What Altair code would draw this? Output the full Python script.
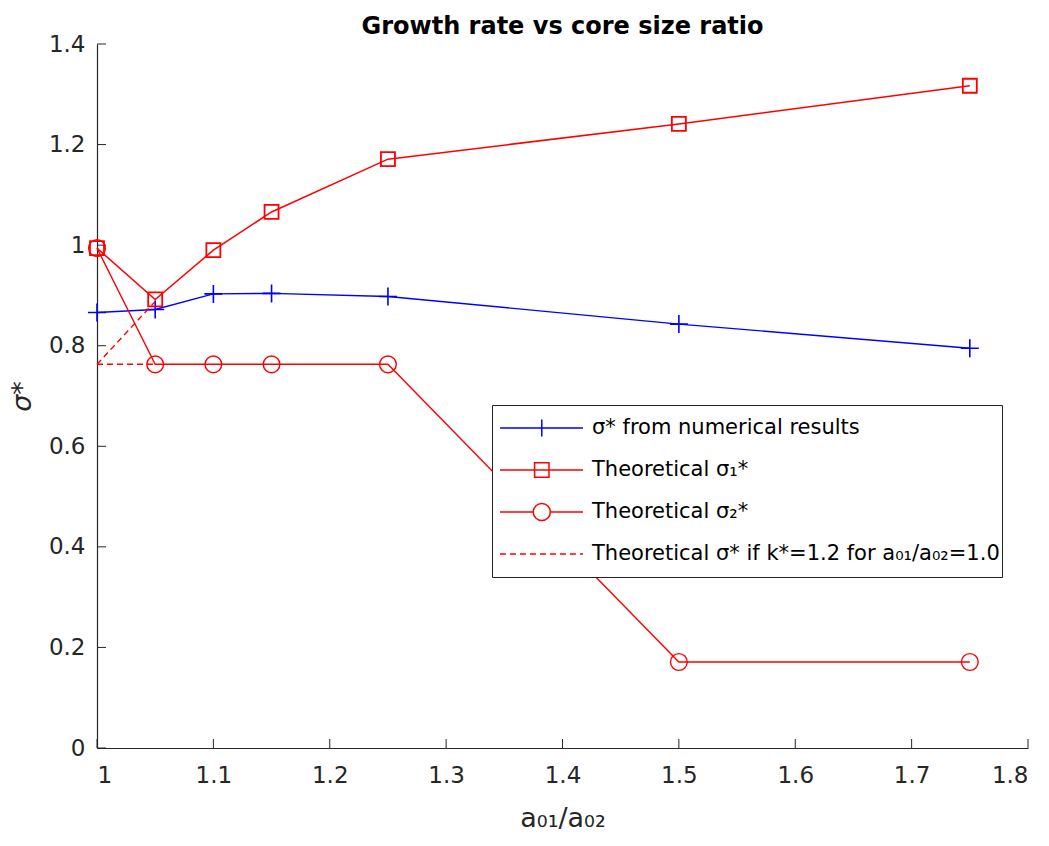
import altair as alt
import pandas as pd

# ---------------- data ----------------
x_vals = [1.0, 1.05, 1.1, 1.15, 1.25, 1.5, 1.75]
sigma_num = [0.866, 0.872, 0.903, 0.904, 0.898, 0.843, 0.795]
sigma_1 = [0.994, 0.892, 0.990, 1.066, 1.171, 1.241, 1.317]
sigma_2 = [0.994, 0.763, 0.763, 0.763, 0.763, 0.171, 0.171]

dash_x = [1.0, 1.05, 1.0, 1.05]
dash_y = [0.763, 0.888, 0.763, 0.763]
dash_seg = ["a", "a", "b", "b"]

x_ticks = [1.0, 1.1, 1.2, 1.3, 1.4, 1.5, 1.6, 1.7, 1.8]
y_ticks = [0.0, 0.2, 0.4, 0.6, 0.8, 1.0, 1.2, 1.4]

series_names = [
    "σ* from numerical results",
    "Theoretical σ₁*",
    "Theoretical σ₂*",
    "Theoretical σ* if k*=1.2 for a₀₁/a₀₂=1.0",
]
series_colors = ["#0000ff", "#ff0000", "#ff0000", "#ff0000"]

BLUE = "#0000ff"
RED = "#ff0000"
AXIS = "#262626"
FONT = "DejaVu Sans"

W, H = 931, 704

df_num = pd.DataFrame({"x": x_vals, "y": sigma_num})
df_s1 = pd.DataFrame({"x": x_vals, "y": sigma_1})
df_s2 = pd.DataFrame({"x": x_vals, "y": sigma_2})
df_dash = pd.DataFrame({"x": dash_x, "y": dash_y, "seg": dash_seg})
df_xt = pd.DataFrame({"x": x_ticks})
df_yt = pd.DataFrame({"y": y_ticks})
df_leg = pd.concat([
    df_num.assign(series=series_names[0]),
    df_s1.assign(series=series_names[1]),
    df_s2.assign(series=series_names[2]),
    df_dash[["x", "y"]].assign(series=series_names[3]),
])

# ---------------- legend symbol paths (line + marker) ----------------
L, R, c = -0.889, 0.956, 0.04
def f(v):
    return f"{v:.3f}"
plus_leg = f"M{f(L)},0H{f(R)}M{f(c)},-0.19V0.19"
sq_leg = f"M{f(L)},0H{f(R)}M{f(c-0.16)},-0.16H{f(c+0.16)}V0.16H{f(c-0.16)}Z"
r = 0.19
k = 0.5523 * r
circ_leg = (f"M{f(L)},0H{f(c-r)}M{f(c+r)},0H{f(R)}"
            f"M{f(c+r)},0C{f(c+r)},{f(k)} {f(c+k)},{f(r)} {f(c)},{f(r)}"
            f"C{f(c-k)},{f(r)} {f(c-r)},{f(k)} {f(c-r)},0"
            f"C{f(c-r)},{f(-k)} {f(c-k)},{f(-r)} {f(c)},{f(-r)}"
            f"C{f(c+k)},{f(-r)} {f(c+r)},{f(-k)} {f(c+r)},0Z")
dash_parts = []
pos = L
while pos < R:
    end = min(pos + 0.133, R)
    dash_parts.append(f"M{f(pos)},0H{f(end)}")
    pos = end + 0.089
dash_leg = "".join(dash_parts)
leg_shapes = [plus_leg, sq_leg, circ_leg, dash_leg]

plus_main = "M-1,0H1M0,-1V1"

# ---------------- encodings ----------------
X = alt.X("x:Q",
          scale=alt.Scale(domain=[1.0, 1.8], nice=False, zero=False),
          axis=alt.Axis(values=x_ticks, format="~g", title="a₀₁/a₀₂",
                        labelPadding=16, titlePadding=18, titleFontSize=27))
Y = alt.Y("y:Q",
          scale=alt.Scale(domain=[0.0, 1.4], nice=False, zero=False),
          axis=alt.Axis(values=y_ticks, format="~g", title="σ*",
                        labelPadding=12, titlePadding=12, titleFontSize=27,
                        titleFontStyle="italic"))

legend = alt.Legend(orient="none", legendX=395, legendY=361, title=None,
                    labelFont=FONT, labelFontSize=21, labelColor="black",
                    labelLimit=800, labelOffset=6, padding=2,
                    strokeColor=AXIS, fillColor="white",
                    symbolSize=8100, symbolStrokeWidth=1.5, symbolOpacity=1,
                    clipHeight=42, rowPadding=0)

xt = alt.Chart(df_xt).mark_rule(color=AXIS, strokeWidth=1).encode(
    x=X, y=alt.value(H), y2=alt.value(H - 9))
yt = alt.Chart(df_yt).mark_rule(color=AXIS, strokeWidth=1).encode(
    y=Y, x=alt.value(0), x2=alt.value(9))

num_line = alt.Chart(df_num).mark_line(color=BLUE, strokeWidth=1.4).encode(x=X, y=Y)
num_pts = alt.Chart(df_num).mark_point(shape=plus_main, size=324, filled=False,
                                       color=BLUE, strokeWidth=1.6, opacity=1).encode(x=X, y=Y)
s1_line = alt.Chart(df_s1).mark_line(color=RED, strokeWidth=1.5).encode(x=X, y=Y)
s1_pts = alt.Chart(df_s1).mark_point(shape="square", size=196, filled=False,
                                     color=RED, strokeWidth=1.8, opacity=1).encode(x=X, y=Y)
s2_line = alt.Chart(df_s2).mark_line(color=RED, strokeWidth=1.4).encode(x=X, y=Y)
s2_pts = alt.Chart(df_s2).mark_point(shape="circle", size=280, filled=False,
                                     color=RED, strokeWidth=1.4, opacity=1).encode(x=X, y=Y)
dash_line = alt.Chart(df_dash).mark_line(color=RED, strokeWidth=1.4, strokeDash=[6, 4]).encode(
    x=X, y=Y, detail="seg:N")

leg_layer = alt.Chart(df_leg).mark_point(opacity=0, filled=False).encode(
    x=X, y=Y,
    color=alt.Color("series:N", scale=alt.Scale(domain=series_names, range=series_colors),
                    legend=legend),
    shape=alt.Shape("series:N", scale=alt.Scale(domain=series_names, range=leg_shapes),
                    legend=legend),
)

chart = alt.layer(
    xt, yt, num_line, num_pts, s1_line, s1_pts, s2_line, s2_pts, dash_line, leg_layer
).properties(
    width=W, height=H,
    title=alt.Title("Growth rate vs core size ratio", font=FONT, fontSize=24,
                    fontWeight="bold", color="black", anchor="middle",
                    baseline="alphabetic", offset=-25),
    autosize=alt.AutoSizeParams(type="none"),
    padding={"left": 97, "top": 44, "right": 21, "bottom": 98},
    background="white",
).configure_view(stroke=None).configure_axis(
    grid=False, domainColor=AXIS, domainWidth=1.2, labelColor=AXIS, titleColor=AXIS,
    labelFont=FONT, titleFont=FONT, labelFontSize=23, titleFontWeight="normal",
    ticks=False, tickSize=0,
)

chart.save("out.html", embed_options={"renderer": "svg", "actions": False})
